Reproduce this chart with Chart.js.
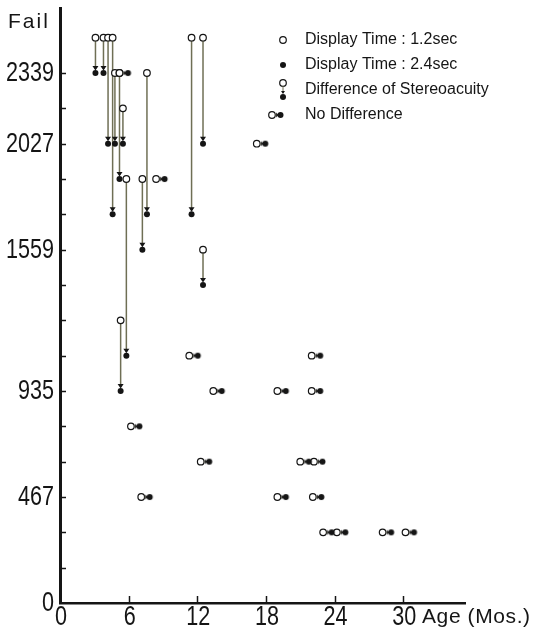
<!DOCTYPE html>
<html><head><meta charset="utf-8">
<script src="https://cdn.jsdelivr.net/npm/chart.js@4.4.1/dist/chart.umd.min.js"></script>
<style>html,body{margin:0;padding:0;background:#fff;}#wrap{width:546px;height:633px;}</style>
</head><body><div id="wrap"><canvas id="c" width="546" height="633"></canvas></div>
<script>
// ---- data (age in months, stereoacuity as level index on the test scale) ----
const diffAge   = [3.1, 3.8, 4.2, 4.6, 4.8, 5.2, 5.5, 5.8, 7.2, 7.6, 11.5, 12.5, 12.5, 5.3];
const diffLv12  = [16, 16, 16, 16, 15, 15, 14, 12, 12, 15, 16, 16, 10, 8];
const diffLv24  = [15, 15, 13, 11, 13, 12, 13, 7, 10, 11, 11, 13, 9, 6];
const sameAge   = [5.2, 17.2, 8.4, 11.3, 22.0, 13.4, 19.0, 22.0, 6.2, 12.3, 21.0, 22.2, 7.1, 19.0, 22.1, 23.0, 24.2, 28.2, 30.2];
const sameLv    = [15, 13, 12, 7, 7, 6, 6, 6, 5, 4, 4, 4, 3, 3, 3, 2, 2, 2, 2];
const yTickLevels = [0, 3, 6, 10, 13, 15];
const yTickLabels = ['0', '467', '935', '1559', '2027', '2339'];
const xTicks = [0, 6, 12, 18, 24, 30];
const legendLabels = ['Display Time : 1.2sec', 'Display Time : 2.4sec', 'Difference of Stereoacuity', 'No Difference'];

const ARROW = '#6f6f55';
const INK = '#151515';
const TXT_FONT = '"Liberation Sans",Arial,sans-serif';

function drawNoDiffGlyph(g, x, y) {
  g.save();
  g.strokeStyle = ARROW; g.lineWidth = 1.2;
  g.beginPath(); g.moveTo(x + 3.3, y); g.lineTo(x + 5.5, y); g.stroke();
  g.fillStyle = INK;
  g.beginPath(); g.moveTo(x + 6.5, y); g.lineTo(x + 4.2, y - 2.4); g.lineTo(x + 4.2, y + 2.4); g.closePath(); g.fill();
  g.beginPath(); g.arc(x + 8.5, y, 3, 0, Math.PI * 2); g.fill();
  g.restore();
}
function makeNoDiffImage() {
  const c = document.createElement('canvas'); c.width = 30; c.height = 10;
  drawNoDiffGlyph(c.getContext('2d'), 15, 5);
  return c;
}
function drawOpen(g, x, y) {
  g.save(); g.fillStyle = '#fff'; g.strokeStyle = INK; g.lineWidth = 1.2;
  g.beginPath(); g.arc(x, y, 3.3, 0, Math.PI * 2); g.fill(); g.stroke(); g.restore();
}
function drawFilled(g, x, y) {
  g.save(); g.fillStyle = INK; g.beginPath(); g.arc(x, y, 3, 0, Math.PI * 2); g.fill(); g.restore();
}
function drawVArrow(g, x, y1, y2) {
  g.save();
  g.strokeStyle = ARROW; g.lineWidth = 1.5;
  g.beginPath(); g.moveTo(x, y1 + 3.3); g.lineTo(x, y2 - 4); g.stroke();
  g.fillStyle = INK;
  g.beginPath(); g.moveTo(x, y2 - 2.5); g.lineTo(x - 3, y2 - 7); g.lineTo(x + 3, y2 - 7); g.closePath(); g.fill();
  g.restore();
}
function condensedText(g, txt, x, y, align) {
  // narrow numerals like the original typeface
  const sx = 0.8;
  g.save();
  g.translate(x, y); g.scale(sx, 1);
  g.textAlign = align; g.textBaseline = 'middle';
  g.fillText(txt, 0, 0);
  g.restore();
}

const arrowsPlugin = {
  id: 'arrows',
  beforeDatasetsDraw(chart) {
    const g = chart.ctx, xs = chart.scales.x, ys = chart.scales.y;
    for (let i = 0; i < diffAge.length; i++) {
      const x = xs.getPixelForValue(diffAge[i]);
      drawVArrow(g, x, ys.getPixelForValue(diffLv12[i]), ys.getPixelForValue(diffLv24[i]));
    }
  },
  afterDraw(chart) {
    const g = chart.ctx, xs = chart.scales.x, ys = chart.scales.y, a = chart.chartArea;
    g.save();
    g.strokeStyle = INK; g.lineWidth = 1.5;
    // inward tick marks
    for (let v = 1; v <= 15; v++) {
      const y = Math.round(ys.getPixelForValue(v)) + 0.5;
      g.beginPath(); g.moveTo(a.left, y); g.lineTo(a.left + 6, y); g.stroke();
    }
    for (const v of xTicks.slice(1)) {
      const x = Math.round(xs.getPixelForValue(v)) + 0.5;
      g.beginPath(); g.moveTo(x, a.bottom); g.lineTo(x, a.bottom - 7); g.stroke();
    }
    // tick labels
    g.fillStyle = INK;
    g.font = '27px ' + TXT_FONT;
    yTickLevels.forEach((v, k) => condensedText(g, yTickLabels[k], a.left - 6, ys.getPixelForValue(v) + 1, 'right'));
    xTicks.forEach(v => condensedText(g, String(v), xs.getPixelForValue(v) + 1, a.bottom + 15, 'center'));
    // axis titles
    g.textBaseline = 'middle'; g.textAlign = 'left';
    g.font = '21px ' + TXT_FONT;
    g.letterSpacing = '2px';
    g.fillText('Fail', 8, 22);
    g.letterSpacing = '0.6px';
    g.fillText('Age (Mos.)', 422, 617);
    g.letterSpacing = '0px';
    // legend
    const lx = 283, rows = [40, 65, 90, 115];
    g.font = '16px ' + TXT_FONT;
    drawOpen(g, lx, rows[0]);
    drawFilled(g, lx, rows[1]);
    drawOpen(g, lx, rows[2] - 7);
    g.strokeStyle = ARROW; g.lineWidth = 1; g.beginPath(); g.moveTo(lx, rows[2] - 4); g.lineTo(lx, rows[2] + 3); g.stroke();
    g.fillStyle = INK; g.beginPath(); g.moveTo(lx, rows[2] + 4); g.lineTo(lx - 2, rows[2] + 1); g.lineTo(lx + 2, rows[2] + 1); g.closePath(); g.fill();
    drawFilled(g, lx, rows[2] + 7);
    drawOpen(g, lx - 11, rows[3]);
    drawNoDiffGlyph(g, lx - 11, rows[3]);
    g.fillStyle = INK;
    for (let i = 0; i < 4; i++) g.fillText(legendLabels[i], 305, rows[i]);
    g.restore();
  }
};

const openPts = diffAge.map((x, i) => ({x, y: diffLv12[i]})).concat(sameAge.map((x, i) => ({x, y: sameLv[i]})));
const filledPts = diffAge.map((x, i) => ({x, y: diffLv24[i]}));
const samePts = sameAge.map((x, i) => ({x, y: sameLv[i]}));

new Chart(document.getElementById('c'), {
  type: 'scatter',
  data: {
    datasets: [
      {label: 'Display Time : 2.4sec', data: filledPts, pointStyle: 'circle', pointRadius: 3, backgroundColor: INK, borderColor: INK, borderWidth: 0},
      {label: 'No Difference', data: samePts, pointStyle: makeNoDiffImage(), pointRadius: 5},
      {label: 'Display Time : 1.2sec', data: openPts, pointStyle: 'circle', pointRadius: 3.3, backgroundColor: '#fff', borderColor: INK, borderWidth: 1.2}
    ]
  },
  options: {
    responsive: false, animation: false, devicePixelRatio: 1,
    layout: {padding: {top: 8, right: 81, bottom: 0, left: 0}},
    plugins: {legend: {display: false}, tooltip: {enabled: false}},
    scales: {
      x: {
        type: 'linear', min: 0, max: 35.4,
        grid: {drawOnChartArea: false, drawTicks: false},
        border: {display: true, width: 2.5, color: INK},
        afterBuildTicks: s => { s.ticks = xTicks.map(v => ({value: v})); },
        afterFit: s => { s.height = 30; },
        ticks: {display: false}
      },
      y: {
        type: 'linear', min: 0, max: 16.84,
        grid: {drawOnChartArea: false, drawTicks: false},
        border: {display: true, width: 3, color: INK},
        afterBuildTicks: s => { s.ticks = yTickLevels.map(v => ({value: v})); },
        afterFit: s => { s.width = 60; },
        ticks: {display: false}
      }
    }
  },
  plugins: [arrowsPlugin]
});
</script></body></html>
